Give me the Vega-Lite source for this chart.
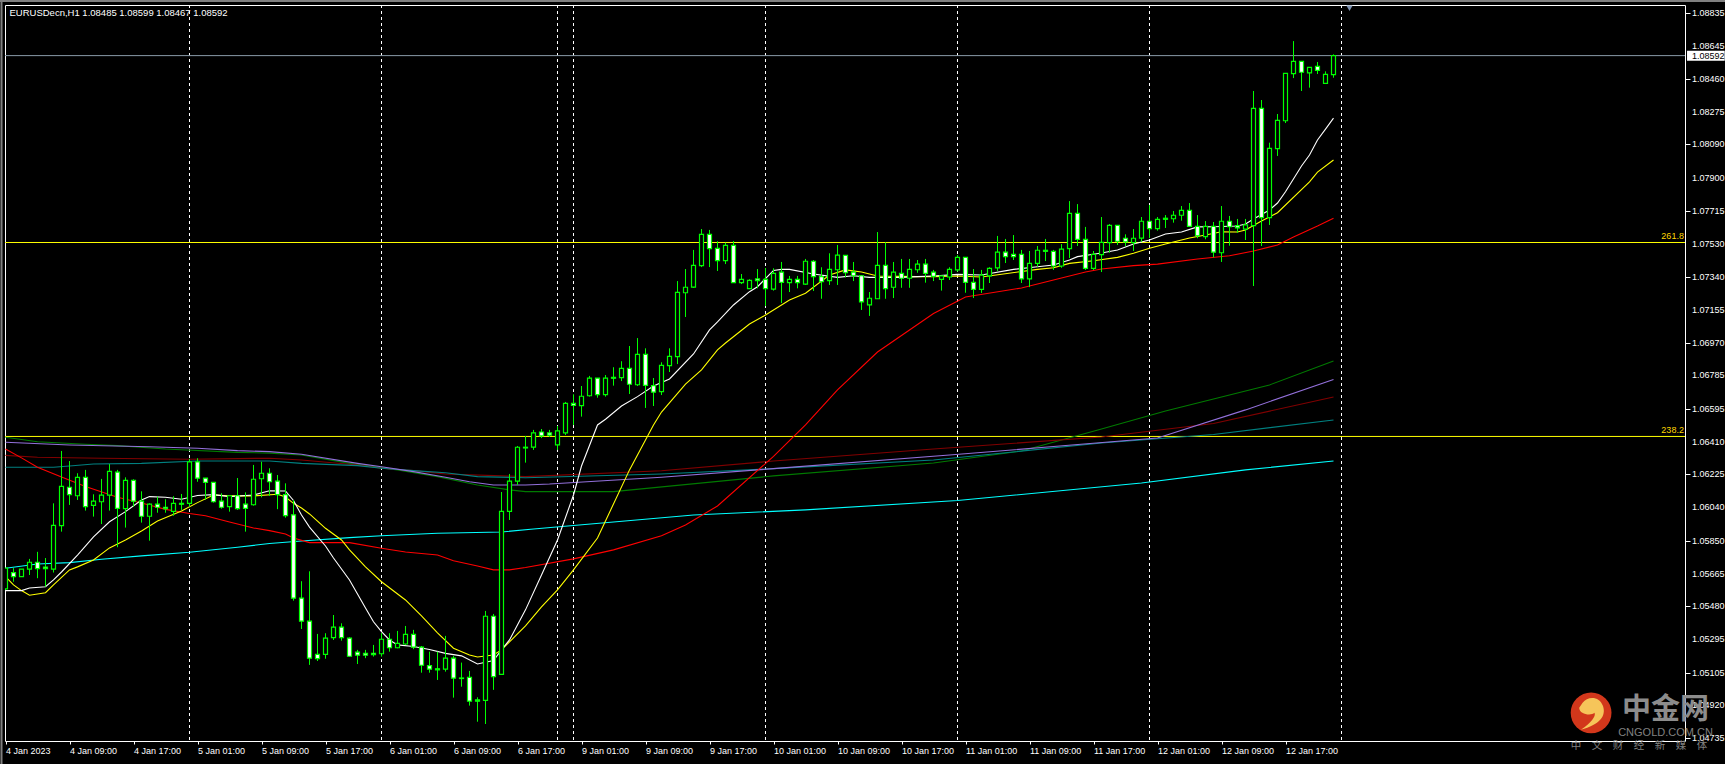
{"$schema":"https://vega.github.io/schema/vega-lite/v6.json","width":1680,"height":736,"autosize":"none","padding":{"left":5,"top":5,"right":40,"bottom":23},"background":"#000000","config":{"view":{"stroke":"#ffffff","strokeWidth":1,"fill":"#000000"},"text":{"font":"Liberation Sans"}},
"datasets":{"candles":[
{"i":0,"open":1.05579,"high":1.05696,"low":1.05573,"close":1.05696},{"i":1,"open":1.05671,"high":1.05696,"low":1.05619,"close":1.05648},{"i":2,"open":1.05648,"high":1.0569,"low":1.05646,"close":1.0569},{"i":3,"open":1.0569,"high":1.05748,"low":1.05657,"close":1.05729},{"i":4,"open":1.05729,"high":1.05788,"low":1.05639,"close":1.05693},{"i":5,"open":1.05701,"high":1.05753,"low":1.05591,"close":1.05693},{"i":6,"open":1.0569,"high":1.06062,"low":1.05671,"close":1.05938},{"i":7,"open":1.05936,"high":1.06358,"low":1.05902,"close":1.06158},{"i":8,"open":1.06153,"high":1.06301,"low":1.06053,"close":1.06111},{"i":9,"open":1.06105,"high":1.06232,"low":1.06081,"close":1.06209},
{"i":10,"open":1.06209,"high":1.06251,"low":1.06021,"close":1.06043},{"i":11,"open":1.06051,"high":1.06113,"low":1.05987,"close":1.06074},{"i":12,"open":1.06071,"high":1.062,"low":1.05945,"close":1.06108},{"i":13,"open":1.06108,"high":1.06284,"low":1.06021,"close":1.06243},{"i":14,"open":1.06238,"high":1.06251,"low":1.05814,"close":1.06034},{"i":15,"open":1.06032,"high":1.06209,"low":1.05925,"close":1.06192},{"i":16,"open":1.06192,"high":1.06198,"low":1.06043,"close":1.06074},{"i":17,"open":1.06074,"high":1.0613,"low":1.05953,"close":1.05989},{"i":18,"open":1.05989,"high":1.06062,"low":1.05851,"close":1.06057},{"i":19,"open":1.06057,"high":1.061,"low":1.06009,"close":1.0604},
{"i":20,"open":1.0604,"high":1.06085,"low":1.06009,"close":1.06032},{"i":21,"open":1.06017,"high":1.06102,"low":1.05992,"close":1.06062},{"i":22,"open":1.06062,"high":1.06115,"low":1.06025,"close":1.06057},{"i":23,"open":1.06062,"high":1.06313,"low":1.06043,"close":1.06296},{"i":24,"open":1.06296,"high":1.06317,"low":1.06184,"close":1.06204},{"i":25,"open":1.06204,"high":1.06204,"low":1.06081,"close":1.06181},{"i":26,"open":1.06181,"high":1.06181,"low":1.06066,"close":1.06071},{"i":27,"open":1.06074,"high":1.06119,"low":1.06032,"close":1.0604},{"i":28,"open":1.06043,"high":1.06105,"low":1.06015,"close":1.06105},{"i":29,"open":1.06105,"high":1.06205,"low":1.06025,"close":1.06032},
{"i":30,"open":1.06057,"high":1.06124,"low":1.05902,"close":1.06034},{"i":31,"open":1.06054,"high":1.06279,"low":1.06049,"close":1.06198},{"i":32,"open":1.06201,"high":1.06297,"low":1.06096,"close":1.06232},{"i":33,"open":1.06232,"high":1.0626,"low":1.06104,"close":1.06184},{"i":34,"open":1.06187,"high":1.06222,"low":1.06029,"close":1.06111},{"i":35,"open":1.06111,"high":1.06175,"low":1.05981,"close":1.05992},{"i":36,"open":1.05997,"high":1.06081,"low":1.05512,"close":1.05526},{"i":37,"open":1.05526,"high":1.05622,"low":1.05352,"close":1.05396},{"i":38,"open":1.05396,"high":1.05678,"low":1.05149,"close":1.05187},{"i":39,"open":1.05209,"high":1.05324,"low":1.05171,"close":1.05184},
{"i":40,"open":1.05209,"high":1.05328,"low":1.05184,"close":1.053},{"i":41,"open":1.05303,"high":1.05431,"low":1.0529,"close":1.05362},{"i":42,"open":1.05362,"high":1.05384,"low":1.05286,"close":1.05303},{"i":43,"open":1.053,"high":1.05305,"low":1.05196,"close":1.05198},{"i":44,"open":1.05221,"high":1.05234,"low":1.05154,"close":1.05204},{"i":45,"open":1.05215,"high":1.05234,"low":1.05187,"close":1.05204},{"i":46,"open":1.05215,"high":1.05262,"low":1.05196,"close":1.05207},{"i":47,"open":1.05212,"high":1.05329,"low":1.05196,"close":1.05294},{"i":48,"open":1.05294,"high":1.05328,"low":1.05224,"close":1.05246},{"i":49,"open":1.05246,"high":1.05341,"low":1.05243,"close":1.05271},
{"i":50,"open":1.05267,"high":1.05369,"low":1.05262,"close":1.05322},{"i":51,"open":1.05322,"high":1.05347,"low":1.05238,"close":1.05249},{"i":52,"open":1.05249,"high":1.05256,"low":1.05105,"close":1.05147},{"i":53,"open":1.05145,"high":1.05224,"low":1.05105,"close":1.05125},{"i":54,"open":1.05127,"high":1.05224,"low":1.05064,"close":1.05121},{"i":55,"open":1.05125,"high":1.05313,"low":1.05111,"close":1.05187},{"i":56,"open":1.05187,"high":1.052,"low":1.04964,"close":1.05074},{"i":57,"open":1.05075,"high":1.05162,"low":1.05026,"close":1.05072},{"i":58,"open":1.05079,"high":1.05115,"low":1.04919,"close":1.04944},{"i":59,"open":1.04951,"high":1.04966,"low":1.04828,"close":1.04944},
{"i":60,"open":1.04949,"high":1.05454,"low":1.04815,"close":1.05424},{"i":61,"open":1.05424,"high":1.05437,"low":1.05008,"close":1.05083},{"i":62,"open":1.05096,"high":1.06126,"low":1.05096,"close":1.06017},{"i":63,"open":1.06017,"high":1.06228,"low":1.05968,"close":1.06187},{"i":64,"open":1.06187,"high":1.06386,"low":1.06166,"close":1.06379},{"i":65,"open":1.06379,"high":1.06443,"low":1.06292,"close":1.06375},{"i":66,"open":1.0638,"high":1.06477,"low":1.06364,"close":1.0646},{"i":67,"open":1.06465,"high":1.06482,"low":1.06431,"close":1.06443},{"i":68,"open":1.0646,"high":1.06477,"low":1.06437,"close":1.06448},{"i":69,"open":1.06392,"high":1.06499,"low":1.06364,"close":1.06471},
{"i":70,"open":1.0646,"high":1.06635,"low":1.06448,"close":1.06627},{"i":71,"open":1.06627,"high":1.06678,"low":1.06505,"close":1.06616},{"i":72,"open":1.06614,"high":1.06725,"low":1.06552,"close":1.06667},{"i":73,"open":1.0667,"high":1.06782,"low":1.06665,"close":1.06769},{"i":74,"open":1.06769,"high":1.06769,"low":1.06659,"close":1.06676},{"i":75,"open":1.06676,"high":1.06787,"low":1.06665,"close":1.06769},{"i":76,"open":1.06774,"high":1.06831,"low":1.06727,"close":1.06769},{"i":77,"open":1.06772,"high":1.06865,"low":1.06753,"close":1.06825},{"i":78,"open":1.06825,"high":1.06951,"low":1.0668,"close":1.06735},{"i":79,"open":1.06732,"high":1.06996,"low":1.06725,"close":1.06904},
{"i":80,"open":1.06904,"high":1.06938,"low":1.06601,"close":1.06729},{"i":81,"open":1.06727,"high":1.0677,"low":1.06612,"close":1.0669},{"i":82,"open":1.06693,"high":1.06859,"low":1.06674,"close":1.06842},{"i":83,"open":1.0684,"high":1.06938,"low":1.06804,"close":1.06893},{"i":84,"open":1.06891,"high":1.07318,"low":1.06849,"close":1.07254},{"i":85,"open":1.07252,"high":1.07386,"low":1.07115,"close":1.07283},{"i":86,"open":1.07284,"high":1.07494,"low":1.07279,"close":1.07407},{"i":87,"open":1.07405,"high":1.07612,"low":1.07397,"close":1.07582},{"i":88,"open":1.07582,"high":1.07607,"low":1.07397,"close":1.07501},{"i":89,"open":1.07503,"high":1.07543,"low":1.07375,"close":1.07433},
{"i":90,"open":1.07433,"high":1.07535,"low":1.07414,"close":1.0752},{"i":91,"open":1.0752,"high":1.07544,"low":1.07307,"close":1.07309},{"i":92,"open":1.07309,"high":1.07358,"low":1.07301,"close":1.07328},{"i":93,"open":1.07275,"high":1.07328,"low":1.07273,"close":1.07322},{"i":94,"open":1.0733,"high":1.07386,"low":1.07277,"close":1.0732},{"i":95,"open":1.07328,"high":1.07392,"low":1.07177,"close":1.07275},{"i":96,"open":1.07273,"high":1.0739,"low":1.07264,"close":1.07362},{"i":97,"open":1.07368,"high":1.07426,"low":1.07194,"close":1.07311},{"i":98,"open":1.07309,"high":1.07347,"low":1.07256,"close":1.07328},{"i":99,"open":1.07328,"high":1.07347,"low":1.07277,"close":1.07309},
{"i":100,"open":1.07301,"high":1.07443,"low":1.07296,"close":1.0743},{"i":101,"open":1.0743,"high":1.07437,"low":1.07262,"close":1.07343},{"i":102,"open":1.07343,"high":1.07396,"low":1.07218,"close":1.07314},{"i":103,"open":1.0732,"high":1.07475,"low":1.07296,"close":1.07384},{"i":104,"open":1.07382,"high":1.07522,"low":1.07296,"close":1.07465},{"i":105,"open":1.07463,"high":1.07463,"low":1.07339,"close":1.07365},{"i":106,"open":1.07369,"high":1.07426,"low":1.07318,"close":1.07348},{"i":107,"open":1.07348,"high":1.07352,"low":1.07155,"close":1.072},{"i":108,"open":1.07183,"high":1.07256,"low":1.07121,"close":1.07221},{"i":109,"open":1.07218,"high":1.07595,"low":1.07218,"close":1.07407},
{"i":110,"open":1.07407,"high":1.07537,"low":1.07218,"close":1.07275},{"i":111,"open":1.07283,"high":1.07426,"low":1.07222,"close":1.07368},{"i":112,"open":1.07362,"high":1.07443,"low":1.0728,"close":1.07334},{"i":113,"open":1.07334,"high":1.07443,"low":1.0728,"close":1.07384},{"i":114,"open":1.07382,"high":1.07437,"low":1.07365,"close":1.07414},{"i":115,"open":1.07414,"high":1.07443,"low":1.07309,"close":1.07362},{"i":116,"open":1.07368,"high":1.07381,"low":1.07318,"close":1.07345},{"i":117,"open":1.07328,"high":1.07347,"low":1.07264,"close":1.07347},{"i":118,"open":1.07341,"high":1.07396,"low":1.07324,"close":1.07384},{"i":119,"open":1.07381,"high":1.07465,"low":1.07371,"close":1.07452},
{"i":120,"open":1.07452,"high":1.07452,"low":1.07252,"close":1.07311},{"i":121,"open":1.07311,"high":1.07386,"low":1.07222,"close":1.07271},{"i":122,"open":1.07271,"high":1.07381,"low":1.07251,"close":1.07352},{"i":123,"open":1.07347,"high":1.07396,"low":1.07307,"close":1.0739},{"i":124,"open":1.07392,"high":1.07573,"low":1.07375,"close":1.07481},{"i":125,"open":1.07481,"high":1.07556,"low":1.0742,"close":1.07456},{"i":126,"open":1.07469,"high":1.07578,"low":1.07437,"close":1.07456},{"i":127,"open":1.07469,"high":1.07494,"low":1.07307,"close":1.0733},{"i":128,"open":1.0733,"high":1.07488,"low":1.07284,"close":1.07418},{"i":129,"open":1.07418,"high":1.07516,"low":1.07399,"close":1.07492},
{"i":130,"open":1.07492,"high":1.07556,"low":1.07431,"close":1.07486},{"i":131,"open":1.07486,"high":1.07494,"low":1.07381,"close":1.07403},{"i":132,"open":1.07403,"high":1.07527,"low":1.07393,"close":1.07499},{"i":133,"open":1.07501,"high":1.0777,"low":1.07448,"close":1.07701},{"i":134,"open":1.07701,"high":1.07753,"low":1.07516,"close":1.07554},{"i":135,"open":1.07554,"high":1.07624,"low":1.07381,"close":1.0739},{"i":136,"open":1.0739,"high":1.07488,"low":1.07381,"close":1.07469},{"i":137,"open":1.07467,"high":1.0768,"low":1.07369,"close":1.07537},{"i":138,"open":1.07535,"high":1.0764,"low":1.07478,"close":1.07633},{"i":139,"open":1.07633,"high":1.07633,"low":1.07522,"close":1.07543},
{"i":140,"open":1.0756,"high":1.07582,"low":1.07516,"close":1.0754},{"i":141,"open":1.07535,"high":1.07612,"low":1.07488,"close":1.0756},{"i":142,"open":1.07561,"high":1.0768,"low":1.0754,"close":1.07656},{"i":143,"open":1.07656,"high":1.07748,"low":1.07561,"close":1.07614},{"i":144,"open":1.07614,"high":1.0768,"low":1.07603,"close":1.07667},{"i":145,"open":1.07673,"high":1.07691,"low":1.07618,"close":1.07667},{"i":146,"open":1.0767,"high":1.07714,"low":1.07648,"close":1.0769},{"i":147,"open":1.0769,"high":1.07742,"low":1.07659,"close":1.07718},{"i":148,"open":1.07718,"high":1.07759,"low":1.07625,"close":1.07627},{"i":149,"open":1.07627,"high":1.07691,"low":1.0756,"close":1.07574},
{"i":150,"open":1.07569,"high":1.07657,"low":1.07554,"close":1.07627},{"i":151,"open":1.07627,"high":1.07652,"low":1.07452,"close":1.07481},{"i":152,"open":1.07478,"high":1.07742,"low":1.07426,"close":1.07656},{"i":153,"open":1.07656,"high":1.07686,"low":1.07518,"close":1.07625},{"i":154,"open":1.07631,"high":1.07669,"low":1.07591,"close":1.07619},{"i":155,"open":1.07612,"high":1.07669,"low":1.0755,"close":1.07635},{"i":156,"open":1.07631,"high":1.08392,"low":1.0729,"close":1.08294},{"i":157,"open":1.08294,"high":1.08341,"low":1.07516,"close":1.07676},{"i":158,"open":1.07676,"high":1.081,"low":1.07635,"close":1.08068},{"i":159,"open":1.08066,"high":1.08262,"low":1.08025,"close":1.08226},
{"i":160,"open":1.08224,"high":1.08492,"low":1.08211,"close":1.08492},{"i":161,"open":1.0849,"high":1.08674,"low":1.08465,"close":1.0856},{"i":162,"open":1.0856,"high":1.0856,"low":1.08392,"close":1.08498},{"i":163,"open":1.08495,"high":1.08526,"low":1.08411,"close":1.08526},{"i":164,"open":1.08531,"high":1.08556,"low":1.08488,"close":1.08509},{"i":165,"open":1.08435,"high":1.08503,"low":1.08435,"close":1.08486},{"i":166,"open":1.08485,"high":1.08599,"low":1.08467,"close":1.08592}],
"ma":[
{"i":0,"ma":"green","v":1.06435},{"i":4,"ma":"green","v":1.0641},{"i":10,"ma":"green","v":1.06396},{"i":14,"ma":"green","v":1.06388},{"i":20,"ma":"green","v":1.06369},{"i":29,"ma":"green","v":1.0635},{"i":33,"ma":"green","v":1.06346},{"i":37,"ma":"green","v":1.06335},{"i":43,"ma":"green","v":1.06288},{"i":49,"ma":"green","v":1.06251},{"i":54,"ma":"green","v":1.06213},{"i":59,"ma":"green","v":1.06166},{"i":63,"ma":"green","v":1.06138},{"i":65,"ma":"green","v":1.06128},{"i":76,"ma":"green","v":1.06128},{"i":96,"ma":"green","v":1.06217},{"i":116,"ma":"green","v":1.0629},{"i":127,"ma":"green","v":1.06358},{"i":137,"ma":"green","v":1.06482},{"i":145,"ma":"green","v":1.06584},{"i":158,"ma":"green","v":1.06731},{"i":166,"ma":"green","v":1.06866},
{"i":0,"ma":"maroon","v":1.06333},{"i":4,"ma":"maroon","v":1.06322},{"i":12,"ma":"maroon","v":1.06317},{"i":23,"ma":"maroon","v":1.06311},{"i":33,"ma":"maroon","v":1.06317},{"i":37,"ma":"maroon","v":1.06307},{"i":44,"ma":"maroon","v":1.06279},{"i":47,"ma":"maroon","v":1.0626},{"i":51,"ma":"maroon","v":1.06247},{"i":55,"ma":"maroon","v":1.06228},{"i":65,"ma":"maroon","v":1.06213},{"i":82,"ma":"maroon","v":1.06246},{"i":96,"ma":"maroon","v":1.06301},{"i":116,"ma":"maroon","v":1.06369},{"i":137,"ma":"maroon","v":1.06437},{"i":151,"ma":"maroon","v":1.06513},{"i":166,"ma":"maroon","v":1.06663},
{"i":0,"ma":"teal","v":1.06266},{"i":6,"ma":"teal","v":1.06266},{"i":8,"ma":"teal","v":1.06273},{"i":11,"ma":"teal","v":1.06284},{"i":17,"ma":"teal","v":1.06288},{"i":24,"ma":"teal","v":1.06301},{"i":33,"ma":"teal","v":1.06301},{"i":37,"ma":"teal","v":1.06288},{"i":44,"ma":"teal","v":1.06275},{"i":47,"ma":"teal","v":1.0626},{"i":51,"ma":"teal","v":1.06247},{"i":55,"ma":"teal","v":1.06235},{"i":59,"ma":"teal","v":1.06213},{"i":65,"ma":"teal","v":1.06207},{"i":82,"ma":"teal","v":1.06228},{"i":96,"ma":"teal","v":1.06258},{"i":116,"ma":"teal","v":1.06307},{"i":137,"ma":"teal","v":1.06403},{"i":151,"ma":"teal","v":1.06451},{"i":166,"ma":"teal","v":1.06533},
{"i":0,"ma":"purple","v":1.06407},{"i":8,"ma":"purple","v":1.06392},{"i":18,"ma":"purple","v":1.06382},{"i":24,"ma":"purple","v":1.06373},{"i":29,"ma":"purple","v":1.0636},{"i":33,"ma":"purple","v":1.06354},{"i":37,"ma":"purple","v":1.06339},{"i":44,"ma":"purple","v":1.06288},{"i":47,"ma":"purple","v":1.06269},{"i":51,"ma":"purple","v":1.06241},{"i":55,"ma":"purple","v":1.06209},{"i":58,"ma":"purple","v":1.06184},{"i":61,"ma":"purple","v":1.06166},{"i":65,"ma":"purple","v":1.06166},{"i":68,"ma":"purple","v":1.06171},{"i":82,"ma":"purple","v":1.06209},{"i":96,"ma":"purple","v":1.06258},{"i":118,"ma":"purple","v":1.06335},{"i":131,"ma":"purple","v":1.06383},{"i":144,"ma":"purple","v":1.06431},{"i":155,"ma":"purple","v":1.0659},{"i":166,"ma":"purple","v":1.06762},
{"i":0,"ma":"cyan","v":1.05695},{"i":4,"ma":"cyan","v":1.05719},{"i":8,"ma":"cyan","v":1.05727},{"i":12,"ma":"cyan","v":1.05746},{"i":17,"ma":"cyan","v":1.05765},{"i":23,"ma":"cyan","v":1.05786},{"i":29,"ma":"cyan","v":1.05814},{"i":33,"ma":"cyan","v":1.05835},{"i":37,"ma":"cyan","v":1.05849},{"i":43,"ma":"cyan","v":1.05868},{"i":47,"ma":"cyan","v":1.05879},{"i":54,"ma":"cyan","v":1.05893},{"i":62,"ma":"cyan","v":1.059},{"i":66,"ma":"cyan","v":1.05917},{"i":86,"ma":"cyan","v":1.05996},{"i":100,"ma":"cyan","v":1.06025},{"i":119,"ma":"cyan","v":1.06078},{"i":142,"ma":"cyan","v":1.06177},{"i":155,"ma":"cyan","v":1.06251},{"i":166,"ma":"cyan","v":1.06301},
{"i":0,"ma":"red","v":1.06369},{"i":2,"ma":"red","v":1.06319},{"i":4,"ma":"red","v":1.06266},{"i":7,"ma":"red","v":1.06211},{"i":10,"ma":"red","v":1.06157},{"i":14,"ma":"red","v":1.06096},{"i":17,"ma":"red","v":1.06064},{"i":20,"ma":"red","v":1.06028},{"i":23,"ma":"red","v":1.06005},{"i":25,"ma":"red","v":1.05992},{"i":28,"ma":"red","v":1.05957},{"i":31,"ma":"red","v":1.05923},{"i":33,"ma":"red","v":1.05908},{"i":35,"ma":"red","v":1.05889},{"i":36,"ma":"red","v":1.05866},{"i":38,"ma":"red","v":1.0584},{"i":43,"ma":"red","v":1.0584},{"i":47,"ma":"red","v":1.05808},{"i":50,"ma":"red","v":1.05787},{"i":54,"ma":"red","v":1.0577},{"i":56,"ma":"red","v":1.05738},{"i":59,"ma":"red","v":1.05708},{"i":61,"ma":"red","v":1.05686},{"i":63,"ma":"red","v":1.05686},{"i":65,"ma":"red","v":1.05699},{"i":71,"ma":"red","v":1.05748},{"i":76,"ma":"red","v":1.05799},{"i":82,"ma":"red","v":1.05879},{"i":85,"ma":"red","v":1.0594},{"i":89,"ma":"red","v":1.06047},{"i":96,"ma":"red","v":1.06327},{"i":100,"ma":"red","v":1.06505},{"i":104,"ma":"red","v":1.06703},{"i":109,"ma":"red","v":1.06917},{"i":116,"ma":"red","v":1.07135},{"i":120,"ma":"red","v":1.07228},{"i":127,"ma":"red","v":1.07279},{"i":135,"ma":"red","v":1.07369},{"i":137,"ma":"red","v":1.07386},{"i":141,"ma":"red","v":1.07405},{"i":144,"ma":"red","v":1.07414},{"i":149,"ma":"red","v":1.07443},{"i":153,"ma":"red","v":1.07461},{"i":156,"ma":"red","v":1.07488},{"i":159,"ma":"red","v":1.07522},{"i":161,"ma":"red","v":1.07567},{"i":164,"ma":"red","v":1.07629},{"i":166,"ma":"red","v":1.07673},
{"i":0,"ma":"yellow","v":1.05648},{"i":1,"ma":"yellow","v":1.05601},{"i":2,"ma":"yellow","v":1.05569},{"i":3,"ma":"yellow","v":1.05543},{"i":5,"ma":"yellow","v":1.05557},{"i":6,"ma":"yellow","v":1.05601},{"i":8,"ma":"yellow","v":1.05686},{"i":9,"ma":"yellow","v":1.05703},{"i":11,"ma":"yellow","v":1.05742},{"i":13,"ma":"yellow","v":1.0581},{"i":15,"ma":"yellow","v":1.05855},{"i":17,"ma":"yellow","v":1.05906},{"i":19,"ma":"yellow","v":1.05962},{"i":22,"ma":"yellow","v":1.06019},{"i":24,"ma":"yellow","v":1.06066},{"i":26,"ma":"yellow","v":1.06109},{"i":28,"ma":"yellow","v":1.06104},{"i":31,"ma":"yellow","v":1.06104},{"i":34,"ma":"yellow","v":1.06113},{"i":35,"ma":"yellow","v":1.06098},{"i":36,"ma":"yellow","v":1.06062},{"i":37,"ma":"yellow","v":1.06036},{"i":38,"ma":"yellow","v":1.06002},{"i":40,"ma":"yellow","v":1.05921},{"i":42,"ma":"yellow","v":1.05855},{"i":43,"ma":"yellow","v":1.05799},{"i":45,"ma":"yellow","v":1.05703},{"i":47,"ma":"yellow","v":1.05619},{"i":50,"ma":"yellow","v":1.05516},{"i":52,"ma":"yellow","v":1.05426},{"i":54,"ma":"yellow","v":1.0533},{"i":56,"ma":"yellow","v":1.05243},{"i":58,"ma":"yellow","v":1.05205},{"i":59,"ma":"yellow","v":1.05194},{"i":61,"ma":"yellow","v":1.05205},{"i":62,"ma":"yellow","v":1.05234},{"i":63,"ma":"yellow","v":1.05279},{"i":65,"ma":"yellow","v":1.05369},{"i":67,"ma":"yellow","v":1.05477},{"i":69,"ma":"yellow","v":1.05573},{"i":71,"ma":"yellow","v":1.05686},{"i":74,"ma":"yellow","v":1.05866},{"i":78,"ma":"yellow","v":1.06251},{"i":81,"ma":"yellow","v":1.06505},{"i":82,"ma":"yellow","v":1.06578},{"i":85,"ma":"yellow","v":1.06736},{"i":87,"ma":"yellow","v":1.06816},{"i":89,"ma":"yellow","v":1.06929},{"i":90,"ma":"yellow","v":1.06968},{"i":93,"ma":"yellow","v":1.07075},{"i":95,"ma":"yellow","v":1.07126},{"i":98,"ma":"yellow","v":1.07211},{"i":100,"ma":"yellow","v":1.07249},{"i":103,"ma":"yellow","v":1.07352},{"i":105,"ma":"yellow","v":1.07381},{"i":107,"ma":"yellow","v":1.07369},{"i":109,"ma":"yellow","v":1.07347},{"i":114,"ma":"yellow","v":1.07343},{"i":116,"ma":"yellow","v":1.07343},{"i":119,"ma":"yellow","v":1.07347},{"i":122,"ma":"yellow","v":1.07341},{"i":129,"ma":"yellow","v":1.07384},{"i":131,"ma":"yellow","v":1.07393},{"i":133,"ma":"yellow","v":1.07418},{"i":136,"ma":"yellow","v":1.07433},{"i":139,"ma":"yellow","v":1.07452},{"i":141,"ma":"yellow","v":1.07475},{"i":143,"ma":"yellow","v":1.07503},{"i":145,"ma":"yellow","v":1.07527},{"i":148,"ma":"yellow","v":1.07561},{"i":150,"ma":"yellow","v":1.07578},{"i":152,"ma":"yellow","v":1.07597},{"i":154,"ma":"yellow","v":1.07595},{"i":155,"ma":"yellow","v":1.07607},{"i":157,"ma":"yellow","v":1.07657},{"i":159,"ma":"yellow","v":1.07704},{"i":163,"ma":"yellow","v":1.07878},{"i":164,"ma":"yellow","v":1.07934},{"i":166,"ma":"yellow","v":1.08002},
{"i":0,"ma":"white","v":1.05569},{"i":2,"ma":"white","v":1.05569},{"i":3,"ma":"white","v":1.05584},{"i":5,"ma":"white","v":1.05591},{"i":6,"ma":"white","v":1.05629},{"i":7,"ma":"white","v":1.05674},{"i":9,"ma":"white","v":1.0577},{"i":11,"ma":"white","v":1.05872},{"i":13,"ma":"white","v":1.05958},{"i":15,"ma":"white","v":1.06015},{"i":17,"ma":"white","v":1.06081},{"i":18,"ma":"white","v":1.061},{"i":20,"ma":"white","v":1.06096},{"i":22,"ma":"white","v":1.06085},{"i":24,"ma":"white","v":1.06106},{"i":26,"ma":"white","v":1.06111},{"i":28,"ma":"white","v":1.061},{"i":31,"ma":"white","v":1.06109},{"i":33,"ma":"white","v":1.06133},{"i":35,"ma":"white","v":1.06132},{"i":36,"ma":"white","v":1.06078},{"i":37,"ma":"white","v":1.05996},{"i":38,"ma":"white","v":1.05928},{"i":40,"ma":"white","v":1.05821},{"i":41,"ma":"white","v":1.05753},{"i":43,"ma":"white","v":1.05629},{"i":45,"ma":"white","v":1.05471},{"i":46,"ma":"white","v":1.05393},{"i":47,"ma":"white","v":1.05337},{"i":48,"ma":"white","v":1.0529},{"i":49,"ma":"white","v":1.05262},{"i":51,"ma":"white","v":1.05253},{"i":53,"ma":"white","v":1.05236},{"i":55,"ma":"white","v":1.05214},{"i":57,"ma":"white","v":1.052},{"i":59,"ma":"white","v":1.05154},{"i":61,"ma":"white","v":1.05174},{"i":62,"ma":"white","v":1.05234},{"i":63,"ma":"white","v":1.0529},{"i":65,"ma":"white","v":1.0546},{"i":67,"ma":"white","v":1.05657},{"i":69,"ma":"white","v":1.05855},{"i":71,"ma":"white","v":1.06109},{"i":72,"ma":"white","v":1.06273},{"i":74,"ma":"white","v":1.06505},{"i":75,"ma":"white","v":1.06537},{"i":77,"ma":"white","v":1.06612},{"i":79,"ma":"white","v":1.06665},{"i":81,"ma":"white","v":1.06725},{"i":83,"ma":"white","v":1.06765},{"i":86,"ma":"white","v":1.06906},{"i":88,"ma":"white","v":1.07042},{"i":89,"ma":"white","v":1.07087},{"i":91,"ma":"white","v":1.07183},{"i":93,"ma":"white","v":1.07258},{"i":94,"ma":"white","v":1.07286},{"i":96,"ma":"white","v":1.07378},{"i":97,"ma":"white","v":1.07384},{"i":98,"ma":"white","v":1.07384},{"i":101,"ma":"white","v":1.07358},{"i":104,"ma":"white","v":1.07339},{"i":106,"ma":"white","v":1.07348},{"i":108,"ma":"white","v":1.07339},{"i":112,"ma":"white","v":1.07339},{"i":114,"ma":"white","v":1.07343},{"i":116,"ma":"white","v":1.07347},{"i":119,"ma":"white","v":1.07356},{"i":122,"ma":"white","v":1.07352},{"i":126,"ma":"white","v":1.07384},{"i":129,"ma":"white","v":1.07399},{"i":131,"ma":"white","v":1.07409},{"i":133,"ma":"white","v":1.07437},{"i":134,"ma":"white","v":1.07456},{"i":137,"ma":"white","v":1.07477},{"i":139,"ma":"white","v":1.07494},{"i":141,"ma":"white","v":1.07527},{"i":143,"ma":"white","v":1.0755},{"i":145,"ma":"white","v":1.07584},{"i":147,"ma":"white","v":1.07595},{"i":149,"ma":"white","v":1.07624},{"i":151,"ma":"white","v":1.07625},{"i":154,"ma":"white","v":1.07629},{"i":155,"ma":"white","v":1.0764},{"i":156,"ma":"white","v":1.07669},{"i":158,"ma":"white","v":1.0772},{"i":159,"ma":"white","v":1.07759},{"i":160,"ma":"white","v":1.07823},{"i":162,"ma":"white","v":1.07968},{"i":163,"ma":"white","v":1.0803},{"i":164,"ma":"white","v":1.08115},{"i":165,"ma":"white","v":1.08177},{"i":166,"ma":"white","v":1.08239}],
"seps":[{"i":23},{"i":47},{"i":69},{"i":71},{"i":95},{"i":119},{"i":143},{"i":167}],
"levels":[{"price":1.07536,"label":"261.8"},{"price":1.0644,"label":"238.2"}],
"ticks":[{"p":1.04735},{"p":1.0492},{"p":1.05105},{"p":1.05295},{"p":1.0548},{"p":1.05665},{"p":1.0585},{"p":1.0604},{"p":1.06225},{"p":1.0641},{"p":1.06595},{"p":1.06785},{"p":1.0697},{"p":1.07155},{"p":1.0734},{"p":1.0753},{"p":1.07715},{"p":1.079},{"p":1.0809},{"p":1.08275},{"p":1.0846},{"p":1.08645},{"p":1.08835}]},
"layer":[
{"data":{"name":"seps"},"mark":{"type":"rule","color":"#ffffff","strokeWidth":1,"strokeDash":[3,3]},"encoding":{"x":{"field":"i","type":"quantitative","scale":{"domain":[-0.0625,209.9375],"nice":false,"zero":false,"padding":0},"axis":{"orient":"bottom","title":null,"grid":false,"values":[0,8,16,24,32,40,48,56,64,72,80,88,96,104,112,120,128,136,144,152,160],"labelExpr":"['4 Jan 2023','4 Jan 09:00','4 Jan 17:00','5 Jan 01:00','5 Jan 09:00','5 Jan 17:00','6 Jan 01:00','6 Jan 09:00','6 Jan 17:00','9 Jan 01:00','9 Jan 09:00','9 Jan 17:00','10 Jan 01:00','10 Jan 09:00','10 Jan 17:00','11 Jan 01:00','11 Jan 09:00','11 Jan 17:00','12 Jan 01:00','12 Jan 09:00','12 Jan 17:00'][datum.value/8]","labelAlign":"left","labelBaseline":"top","labelColor":"#ffffff","labelFont":"Liberation Sans","labelFontSize":9,"labelPadding":2,"labelOverlap":false,"labelFlush":false,"labelBound":false,"tickColor":"#ffffff","tickSize":3,"domain":false}}}},
{"data":{"name":"levels"},"mark":{"type":"rule","color":"#ffff00","strokeWidth":1},"encoding":{"y":{"field":"price","type":"quantitative","scale":{"domain":[1.04719,1.08878],"nice":false,"zero":false,"padding":0},"axis":{"orient":"right","title":null,"grid":false,"labels":false,"values":[1.04735,1.0492,1.05105,1.05295,1.0548,1.05665,1.0585,1.0604,1.06225,1.0641,1.06595,1.06785,1.0697,1.07155,1.0734,1.0753,1.07715,1.079,1.0809,1.08275,1.0846,1.08645,1.08835],"tickColor":"#ffffff","tickSize":5,"domain":false}}}},
{"data":{"values":[{"price":1.08592}]},"mark":{"type":"rule","color":"#8a9aa8","strokeWidth":1},"encoding":{"y":{"field":"price","type":"quantitative"}}},
{"data":{"name":"ma"},"mark":{"type":"line","clip":true},"encoding":{"x":{"field":"i","type":"quantitative"},"y":{"field":"v","type":"quantitative"},"color":{"field":"ma","type":"nominal","legend":null,"scale":{"domain":["green","maroon","teal","purple","cyan","red","yellow","white"],"range":["#007a00","#800000","#008080","#9370db","#00ffff","#ff0000","#ffff00","#ffffff"]}},"strokeWidth":{"field":"ma","type":"nominal","legend":null,"scale":{"domain":["green","maroon","teal","purple","cyan","red","yellow","white"],"range":[1.1,1.1,1.1,1.2,1.3,1.2,0.9,0.9]}}}},
{"data":{"name":"candles"},"mark":{"type":"rule","color":"#00ff00","strokeWidth":1,"clip":true},"encoding":{"x":{"field":"i","type":"quantitative"},"y":{"field":"low","type":"quantitative"},"y2":{"field":"high"}}},
{"data":{"name":"candles"},"mark":{"type":"bar","size":4,"stroke":"#00ff00","strokeWidth":1.2,"clip":true},"encoding":{"x":{"field":"i","type":"quantitative"},"y":{"field":"open","type":"quantitative"},"y2":{"field":"close"},"fill":{"condition":{"test":"datum.close < datum.open","value":"#ffffff"},"value":"#000000"}}},
{"data":{"name":"levels"},"mark":{"type":"text","align":"right","baseline":"bottom","dy":-1,"color":"#ffd700","fontSize":9,"font":"Liberation Sans"},"encoding":{"x":{"datum":209.8,"type":"quantitative"},"y":{"field":"price","type":"quantitative"},"text":{"field":"label"}}},
{"data":{"name":"ticks"},"mark":{"type":"text","align":"left","baseline":"middle","color":"#ffffff","fontSize":9,"font":"Liberation Sans"},"encoding":{"x":{"datum":210.8,"type":"quantitative"},"y":{"field":"p","type":"quantitative"},"text":{"field":"p","type":"quantitative","format":".5f"}}},
{"data":{"values":[{"t":"EURUSDecn,H1  1.08485 1.08599 1.08467 1.08592"}]},"mark":{"type":"text","align":"left","baseline":"middle","color":"#ffffff","fontSize":9.5,"font":"Liberation Sans"},"encoding":{"x":{"datum":0.5,"type":"quantitative"},"y":{"datum":1.08835,"type":"quantitative"},"text":{"field":"t"}}},
{"data":{"values":[{"k":"price box"}]},"mark":{"type":"rect","fill":"#ffffff","clip":false},"encoding":{"x":{"datum":210.19,"type":"quantitative"},"x2":{"datum":214.9},"y":{"datum":1.0862,"type":"quantitative"},"y2":{"datum":1.08563}}},
{"data":{"values":[{"t":"1.08592"}]},"mark":{"type":"text","align":"left","baseline":"middle","color":"#000000","fontSize":9,"font":"Liberation Sans"},"encoding":{"x":{"datum":210.8,"type":"quantitative"},"y":{"datum":1.08592,"type":"quantitative"},"text":{"field":"t"}}},
{"data":{"values":[{"k":"shift marker"}]},"mark":{"type":"point","shape":"triangle-down","filled":true,"color":"#7f93b2","size":40,"opacity":1},"encoding":{"x":{"datum":168,"type":"quantitative"},"y":{"datum":1.0886,"type":"quantitative"}}},
{"data":{"values":[{"k":"frame"}]},"mark":{"type":"rule","color":"#808080","strokeWidth":2,"clip":false},"encoding":{"x":{"datum":-1,"type":"quantitative"},"x2":{"datum":215},"y":{"datum":1.08901,"type":"quantitative"}}},
{"data":{"values":[{"k":"frame"}]},"mark":{"type":"rule","color":"#808080","strokeWidth":2,"clip":false},"encoding":{"x":{"datum":-0.5,"type":"quantitative"},"y":{"datum":1.08905,"type":"quantitative"},"y2":{"datum":1.0448}}},
{"data":{"values":[{"k":"logo"}]},"mark":{"type":"point","shape":"circle","filled":true,"color":"#d2371b","size":1662,"opacity":1},"encoding":{"x":{"datum":198.2,"type":"quantitative"},"y":{"datum":1.04878,"type":"quantitative"}}},
{"data":{"values":[{"k":"logo"}]},"mark":{"type":"point","shape":"M-0.5,-0.6 C-0.2,-1 0.5,-1 0.7,-0.4 C0.9,0.2 0.5,0.7 -0.6,1 C0,0.6 0.3,0.2 0.2,0 C0,0.2 -0.7,0.1 -0.7,-0.3 Z","filled":true,"color":"#f6c55a","size":1156,"opacity":1},"encoding":{"x":{"datum":198.2,"type":"quantitative"},"y":{"datum":1.04878,"type":"quantitative"}}},
{"data":{"values":[{"t":"中金网"}]},"mark":{"type":"text","align":"center","baseline":"middle","color":"#8c8c8c","fontSize":29,"fontWeight":"bold","font":"Noto Sans CJK SC"},"encoding":{"x":{"datum":207.5,"type":"quantitative"},"y":{"datum":1.04895,"type":"quantitative"},"text":{"field":"t"}}},
{"data":{"values":[{"t":"CNGOLD.COM.CN"}]},"mark":{"type":"text","align":"center","baseline":"middle","color":"#808080","fontSize":11,"font":"Liberation Sans"},"encoding":{"x":{"datum":207.5,"type":"quantitative"},"y":{"datum":1.04764,"type":"quantitative"},"text":{"field":"t"}}},
{"data":{"values":[{"t":"中　文　财　经　新　媒　体"}]},"mark":{"type":"text","align":"center","baseline":"middle","color":"#808080","fontSize":10.5,"font":"Noto Sans CJK SC"},"encoding":{"x":{"datum":204.2,"type":"quantitative"},"y":{"datum":1.0469,"type":"quantitative"},"text":{"field":"t"}}}
]}
